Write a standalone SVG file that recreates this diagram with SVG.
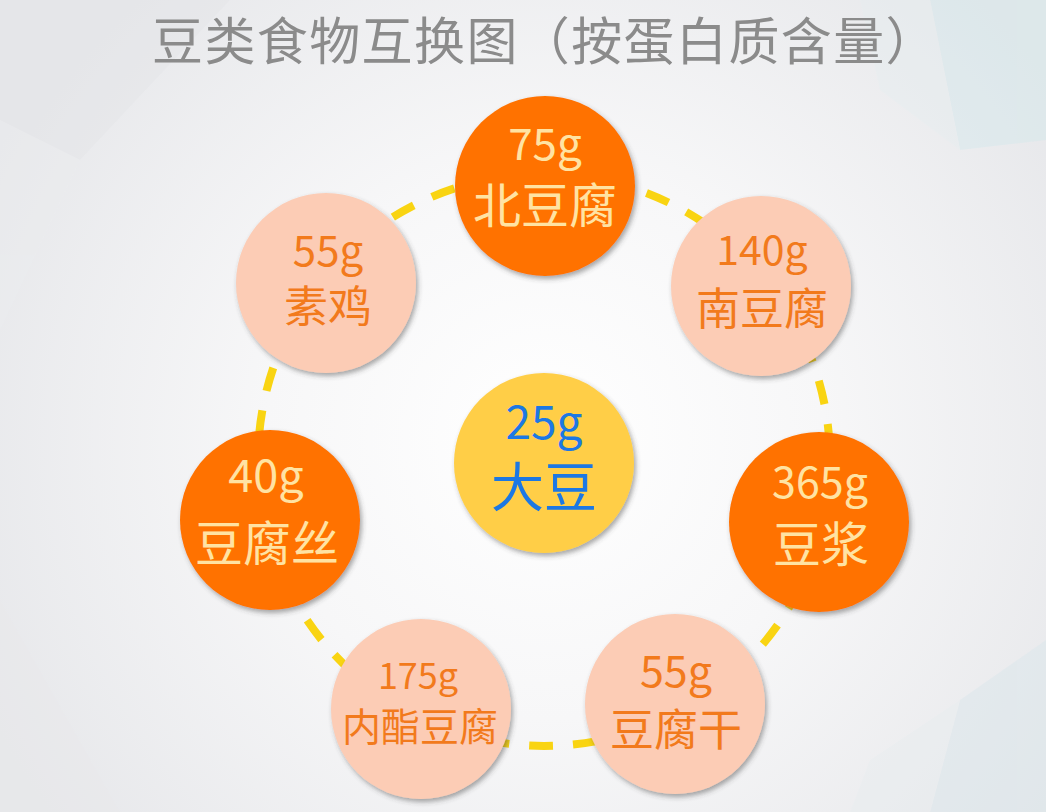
<svg xmlns="http://www.w3.org/2000/svg" width="1046" height="812" viewBox="0 0 1046 812">
  <defs>
    <radialGradient id="bg" cx="545" cy="440" r="620" gradientUnits="userSpaceOnUse">
      <stop offset="0" stop-color="#FFFFFF"/>
      <stop offset="0.45" stop-color="#F7F7F8"/>
      <stop offset="1" stop-color="#E6E7EA"/>
    </radialGradient>
    <filter id="sh" x="-20%" y="-20%" width="140%" height="140%">
      <feDropShadow dx="2" dy="3" stdDeviation="2.5" flood-color="#404040" flood-opacity="0.45"/>
    </filter>
    <style>
      text { font-family: "Noto Sans CJK SC", "Noto Sans", sans-serif; text-anchor: middle; }
      .dark { fill: #FF7200; }
      .light { fill: #FCCCB5; }
      .yellow { fill: #FFCE46; }
      .dark-t { fill: #FFE3A3; }
      .light-t { fill: #F27A1C; }
      .yellow-t { fill: #1C78E4; }
      .title { fill: #8B8B8B; font-size: 51px; }
      .ring { fill: none; stroke: #F9D412; stroke-width: 8; stroke-dasharray: 24 20; }
    </style>
  </defs>

  <!-- background -->
  <rect width="1046" height="812" fill="url(#bg)"/>
  <g opacity="0.45">
    <polygon points="0,0 230,0 80,160 0,120" fill="#E4E5E8"/>
    <polygon points="0,120 80,160 0,330" fill="#ECEDEF"/>
    <polygon points="930,0 1046,0 1046,140 960,150" fill="#D3E8EC"/>
    <polygon points="860,0 930,0 960,150 880,90" fill="#E6EEF0"/>
    <polygon points="960,700 1046,640 1046,812 930,812" fill="#D9E6EB"/>
    <polygon points="0,600 120,812 0,812" fill="#E8E9EC"/>
    <polygon points="870,760 960,700 930,812 850,812" fill="#E8EDEF"/>
  </g>

  <text class="title" x="545" y="60" letter-spacing="1.4">豆类食物互换图（按蛋白质含量）</text>

  <g id="connectors">
    <circle class="ring" cx="544" cy="460" r="286"/>
  </g>

  <g id="node-beidoufu">
    <circle class="dark" cx="545" cy="186" r="90" filter="url(#sh)"/>
    <text class="dark-t" x="545" y="160" font-size="44">75g</text>
    <text class="dark-t" x="545" y="223" font-size="48">北豆腐</text>
  </g>

  <g id="node-nandoufu">
    <circle class="light" cx="761" cy="286" r="90" filter="url(#sh)"/>
    <text class="light-t" x="762" y="265" font-size="41">140g</text>
    <text class="light-t" x="762" y="325" font-size="44">南豆腐</text>
  </g>

  <g id="node-doujiang">
    <circle class="dark" cx="819" cy="522" r="90" filter="url(#sh)"/>
    <text class="dark-t" x="820" y="498" font-size="43">365g</text>
    <text class="dark-t" x="821" y="562" font-size="48">豆浆</text>
  </g>

  <g id="node-doufugan">
    <circle class="light" cx="675" cy="704" r="90" filter="url(#sh)"/>
    <text class="light-t" x="676" y="687" font-size="43">55g</text>
    <text class="light-t" x="676" y="746" font-size="44">豆腐干</text>
  </g>

  <g id="node-neizhidoufu">
    <circle class="light" cx="421" cy="709" r="90" filter="url(#sh)"/>
    <text class="light-t" x="418" y="689" font-size="36">175g</text>
    <text class="light-t" x="420" y="741" font-size="39">内酯豆腐</text>
  </g>

  <g id="node-doufusi">
    <circle class="dark" cx="270" cy="520" r="90" filter="url(#sh)"/>
    <text class="dark-t" x="266" y="492" font-size="45">40g</text>
    <text class="dark-t" x="267" y="561" font-size="48">豆腐丝</text>
  </g>

  <g id="node-suji">
    <circle class="light" cx="326" cy="283" r="90" filter="url(#sh)"/>
    <text class="light-t" x="328" y="266" font-size="42">55g</text>
    <text class="light-t" x="328" y="323" font-size="44">素鸡</text>
  </g>

  <g id="node-dadou">
    <circle class="yellow" cx="544" cy="463" r="90" filter="url(#sh)"/>
    <text class="yellow-t" x="544" y="439" font-size="46">25g</text>
    <text class="yellow-t" x="544" y="507" font-size="53">大豆</text>
  </g>
</svg>
